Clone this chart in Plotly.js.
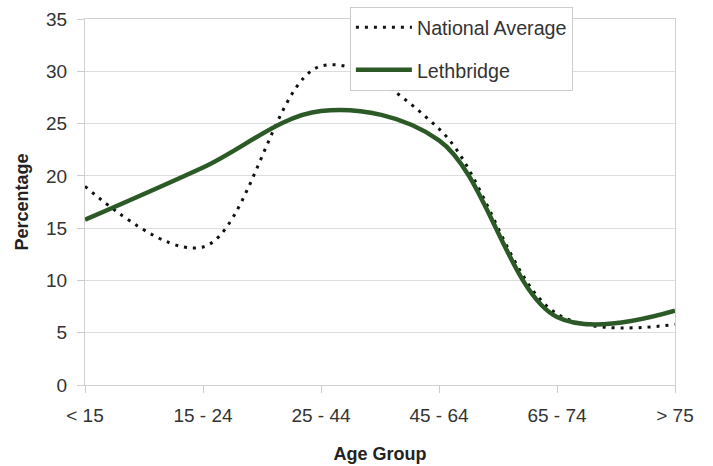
<!DOCTYPE html>
<html>
<head>
<meta charset="utf-8">
<script src="https://cdn.plot.ly/plotly-3.0.1.min.js"></script>
<style>html,body{margin:0;padding:0;background:#fff;}#chart{width:713px;height:466px;}</style>
</head>
<body>
<div id="chart"></div>
<script>
const ageGroups = ['< 15', '15 - 24', '25 - 44', '45 - 64', '65 - 74', '> 75'];
const nationalAverage = [19.0, 13.2, 30.5, 24.5, 6.8, 5.8];
const lethbridge = [15.8, 20.8, 26.2, 23.4, 6.5, 7.1];
const yTicks = [0, 5, 10, 15, 20, 25, 30, 35];

const font = 'Liberation Sans, Arial, sans-serif';

const traces = [
  {
    x: ageGroups, y: nationalAverage, name: 'National Average',
    type: 'scatter', mode: 'lines', legendgroup: 'a',
    line: {color: '#111111', width: 3, dash: '3px,6px', shape: 'spline', smoothing: 1}
  },
  {
    x: ageGroups, y: lethbridge, name: 'Lethbridge',
    type: 'scatter', mode: 'lines', legendgroup: 'b',
    line: {color: '#2b5a27', width: 4.5, shape: 'spline', smoothing: 1}
  }
];

const layout = {
  width: 713, height: 466,
  margin: {l: 85, r: 38, t: 19, b: 81, autoexpand: false},
  paper_bgcolor: '#ffffff', plot_bgcolor: '#ffffff',
  font: {family: font, color: '#333333', size: 19},
  showlegend: true,
  legend: {
    x: 0.449, y: 1.033, xanchor: 'left', yanchor: 'top',
    bgcolor: '#ffffff', bordercolor: '#cccccc', borderwidth: 1,
    font: {family: font, size: 19.7, color: '#333333'},
    itemwidth: 56,
    traceorder: 'grouped', tracegroupgap: 14
  },
  xaxis: {
    type: 'category', range: [0, 5],
    showgrid: false, zeroline: false,
    showline: true, linecolor: '#d0d0d0', linewidth: 1, mirror: true,
    ticks: 'outside', ticklen: 7, tickcolor: '#cccccc', tickwidth: 1,
    ticklabelstandoff: 6,
    tickfont: {family: font, size: 19, color: '#333333'},
    title: {text: 'Age Group', font: {family: font, size: 18, color: '#222222', weight: 'bold'}, standoff: 22}
  },
  yaxis: {
    range: [0, 35], tickvals: yTicks,
    showgrid: true, gridcolor: '#dddddd', gridwidth: 1, zeroline: false,
    showline: true, linecolor: '#d0d0d0', linewidth: 1, mirror: true,
    ticks: 'outside', ticklen: 7, tickcolor: '#cccccc', tickwidth: 1,
    ticklabelstandoff: 6,
    tickfont: {family: font, size: 19, color: '#333333'},
    title: {text: 'Percentage', font: {family: font, size: 18, color: '#222222', weight: 'bold'}, standoff: 12}
  }
};

Plotly.newPlot('chart', traces, layout, {displayModeBar: false, staticPlot: true});
</script>
</body>
</html>
